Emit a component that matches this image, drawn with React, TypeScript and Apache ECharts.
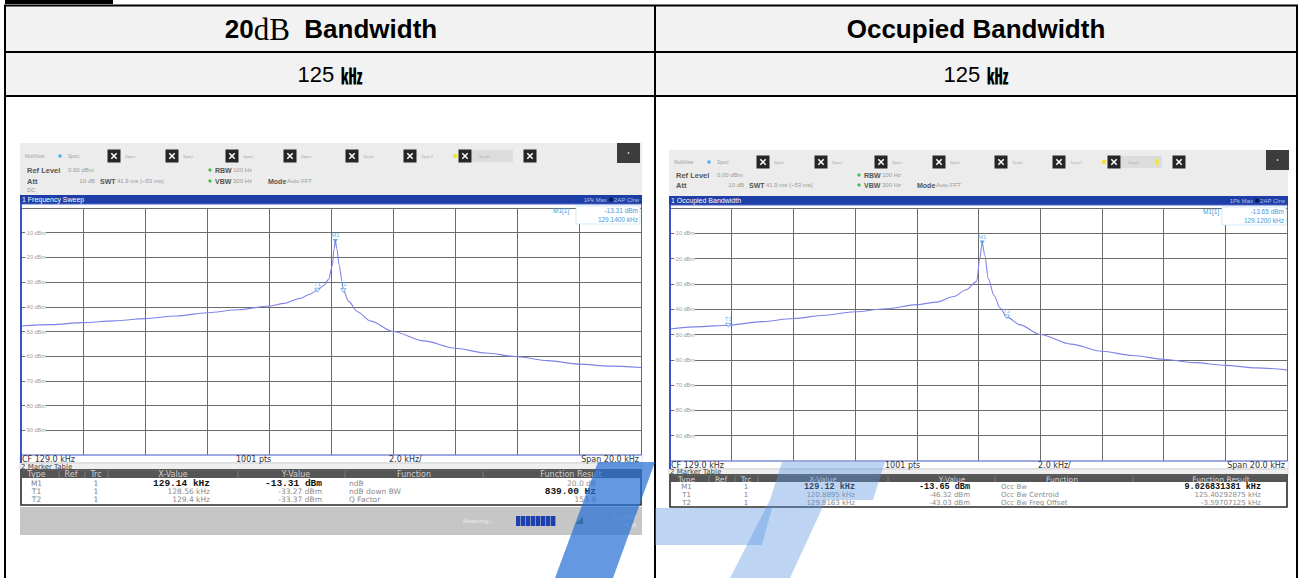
import React, { useEffect, useRef } from "react";
import * as echarts from "echarts";

// ---------------- data ----------------
const CF_KHZ = 129.0;

// trace 1: 20 dB bandwidth (frequency sweep)
const sweepFreqKHz = [119, 120, 121, 122, 123, 124, 125, 126, 127, 127.5, 128, 128.3, 128.56, 128.75, 128.92, 129.04, 129.1, 129.14, 129.19, 129.26, 129.36, 129.4, 129.57, 129.85, 130.28, 131, 132, 133, 134, 135, 136, 137, 138, 139];
const sweepLevelDbm = [-47.8, -47.2, -46.4, -45.7, -44.8, -43.7, -42.4, -41.2, -39.7, -38.6, -36.6, -35.0, -33.27, -31.5, -29.0, -23.5, -16.5, -13.31, -16.5, -23.0, -30.0, -33.37, -37.8, -42.0, -45.8, -50.0, -53.8, -56.8, -58.7, -60.2, -61.8, -63.2, -64.0, -64.6];

// trace 2: occupied bandwidth
const obwFreqKHz = [119, 120, 120.8895, 122, 123, 124, 125, 126, 127, 127.65, 128.2, 128.6, 128.94, 129.04, 129.12, 129.2, 129.32, 129.5, 129.7, 129.9163, 130.35, 131, 132, 133, 134, 135, 136, 137, 138, 139];
const obwLevelDbm = [-47.8, -46.9, -46.32, -44.9, -43.7, -42.4, -41.0, -39.8, -38.2, -37.2, -35.0, -32.3, -29.0, -20.0, -13.65, -18.5, -28.0, -34.5, -39.5, -43.03, -46.2, -50.0, -53.8, -56.6, -58.3, -59.8, -61.1, -62.2, -63.2, -64.0];

// markers
const markerNames = ["M1", "T1", "T2"];
const sweepMarkerFreq = [129.14, 128.56, 129.4];
const sweepMarkerLevel = [-13.31, -33.27, -33.37];
const obwMarkerFreq = [129.12, 120.8895, 129.9163];
const obwMarkerLevel = [-13.65, -46.32, -43.03];

// marker table texts
const tableHeaders = ["Type", "Ref", "Trc", "X-Value", "Y-Value", "Function", "Function Result"];
const sweepXValue = ["129.14 kHz", "128.56 kHz", "129.4 kHz"];
const sweepYValue = ["-13.31 dBm", "-33.27 dBm", "-33.37 dBm"];
const sweepFunction = ["ndB", "ndB down BW", "Q Factor"];
const sweepResult = ["20.0 dB", "839.00 Hz", "153.9"];
const obwXValue = ["129.12 kHz", "120.8895 kHz", "129.9163 kHz"];
const obwYValue = ["-13.65 dBm", "-46.32 dBm", "-43.03 dBm"];
const obwFunction = ["Occ Bw", "Occ Bw Centroid", "Occ Bw Freq Offset"];
const obwResult = ["9.026831381 kHz", "125.40292875 kHz", "-3.59707125 kHz"];

// header cells
const colTitles = ["20", "Occupied Bandwidth"];

// ---------------- helpers ----------------
const SANS = "'Liberation Sans', Arial, sans-serif";
const SERIF = "'Liberation Serif', 'DejaVu Serif', serif";
const DEJA = "'DejaVu Sans', sans-serif";
const MONO = "'Liberation Mono', 'DejaVu Sans Mono', monospace";
const CJK = "'Noto Sans CJK KR', 'Noto Sans CJK SC', sans-serif";

function txt(x: number, y: number, text: string, size: number, fill: string, o: any = {}) {
  const align = o.align || "left";
  return {
    type: "text",
    x,
    y,
    z: o.z ?? 40,
    silent: true,
    style: {
      text,
      fill,
      font: `${o.bold ? "bold " : ""}${size}px ${o.family || SANS}`,
      textAlign: align,
      textVerticalAlign: "middle",
      align,
      verticalAlign: "middle",
    },
  };
}
function rect(x: number, y: number, w: number, h: number, fill: string, o: any = {}) {
  return {
    type: "rect",
    z: o.z ?? 20,
    silent: true,
    shape: { x, y, width: w, height: h },
    style: { fill, stroke: o.stroke || "none", lineWidth: o.lw ?? 0, opacity: o.opacity ?? 1 },
  };
}
function line(x1: number, y1: number, x2: number, y2: number, stroke: string, lw: number, z = 40) {
  return { type: "line", z, silent: true, shape: { x1, y1, x2, y2 }, style: { stroke, lineWidth: lw } };
}
function dot(cx: number, cy: number, r: number, fill: string, z = 40) {
  return { type: "circle", z, silent: true, shape: { cx, cy, r }, style: { fill } };
}

const iconRel = [94, 152, 212, 270, 332, 390, 445, 510];
const iconLabels = ["Spect", "Spect", "Spect", "Spect", "Tp.ptt", "Tp.ps7", "", ""];

function panel(p: any) {
  const { x0, x1 } = p;
  const w = x1 - x0;
  const els: any[] = [];
  // toolbar background
  els.push(rect(x0, p.tbTop, w, p.barTop - p.tbTop, "#ececec", { z: -10 }));
  els.push(txt(x0 + 5, p.iconY, "MultiView", 4.5, "#a0a0a0"));
  els.push(dot(x0 + 40, p.iconY, 1.8, "#45b5f5"));
  els.push(txt(x0 + 48, p.iconY, "Spect", 4.5, "#a0a0a0"));
  iconRel.forEach((r, i) => {
    const cx = x0 + r;
    const cy = p.iconY;
    if (i === 6) {
      els.push(dot(cx - 10, cy, 2.2, "#f2e62a"));
      els.push(rect(cx + 7, cy - 6, 41, 12, "#dcdcdc", { z: 15 }));
      els.push(txt(cx + 14, cy, "Sp.ptt", 4, "#b0b0b0"));
      if (p.extraDot) els.push({ type: "ellipse", z: 40, silent: true, shape: { cx: cx + 43, cy, rx: 1.6, ry: 3.5 }, style: { fill: "#f2e62a" } });
    }
    els.push(rect(cx - 6.5, cy - 6.5, 13, 13, "#262626", { z: 30 }));
    els.push(line(cx - 2.7, cy - 2.7, cx + 2.7, cy + 2.7, "#fff", 1.5));
    els.push(line(cx - 2.7, cy + 2.7, cx + 2.7, cy - 2.7, "#fff", 1.5));
    if (iconLabels[i]) els.push(txt(cx + 11, cy, iconLabels[i], 4, "#a8a8a8"));
  });
  els.push(rect(x0 + 597, p.tbTop, 23, 20, "#3c3c3c", { z: 30 }));
  els.push(dot(x0 + 608.5, p.tbTop + 10, 0.9, "#cfcfcf"));

  // setting lines
  els.push(txt(x0 + 7, p.refY, "Ref Level", 7.5, "#555", { bold: true }));
  els.push(txt(x0 + 48, p.refY, "0.00 dBm", 6, "#999"));
  els.push(dot(x0 + 190, p.refY, 1.6, "#3fbf3f"));
  els.push(txt(x0 + 195, p.refY, "RBW", 7, "#555", { bold: true }));
  els.push(txt(x0 + 213, p.refY, "100 Hz", 6, "#999"));
  els.push(txt(x0 + 7, p.attY, "Att", 7.5, "#555", { bold: true }));
  els.push(txt(x0 + 75, p.attY, "10 dB", 6, "#999", { align: "right" }));
  els.push(txt(x0 + 80, p.attY, "SWT", 7, "#555", { bold: true }));
  els.push(txt(x0 + 97, p.attY, "41.9 ms (~53 ms)", 6, "#999"));
  els.push(dot(x0 + 190, p.attY, 1.6, "#3fbf3f"));
  els.push(txt(x0 + 195, p.attY, "VBW", 7, "#555", { bold: true }));
  els.push(txt(x0 + 213, p.attY, "300 Hz", 6, "#999"));
  els.push(txt(x0 + 248, p.attY, "Mode", 7, "#555", { bold: true }));
  els.push(txt(x0 + 267, p.attY, "Auto FFT", 6, "#999"));
  if (p.dcY) els.push(txt(x0 + 7, p.dcY, "DC", 6, "#999"));

  // blue title bar
  const barMid = (p.barTop + p.barBot) / 2;
  els.push(rect(x0, p.barTop, w, p.barBot - p.barTop, "#1d3ea6", { z: 30 }));
  els.push(txt(x0 + 2, barMid, p.title, 7, "#ffffff"));
  els.push(txt(x1 - 3, barMid, "2AP Clrw", 6, "#a9c1ef", { align: "right" }));
  els.push(dot(x1 - 31, barMid, 2, "#0b1640"));
  els.push(txt(x1 - 35, barMid, "1Pk Max", 6, "#a9c1ef", { align: "right" }));

  // plot area background and frame
  els.push(rect(x0, p.barBot, w, p.cfBot - p.barBot, "#ffffff", { z: -10 }));
  els.push(rect(x0 + 0.5, p.barBot, w - 1, p.plotBot - p.barBot, "none", { z: 35, stroke: "#5064c8", lw: 1 }));
  els.push(line(x0 + 1, p.barBot, x0 + 1, p.cfBot, "#3d52c4", 2, 36));

  // marker readout
  els.push(rect(x1 - 66, p.barBot + 2, 64, 18, "#ffffff", { z: 36, stroke: "#b6d8f2", lw: 0.6 }));
  els.push(txt(p.readX, p.barBot + 6, "M1[1]", 6.5, "#3d9be0"));
  els.push(txt(x1 - 4, p.barBot + 6, p.readLevel, 6.5, "#3d9be0", { align: "right" }));
  els.push(txt(x1 - 4, p.barBot + 15, p.readFreq, 6.5, "#3d9be0", { align: "right" }));

  // CF row
  const cfMid = (p.plotBot + p.cfBot) / 2;
  els.push(rect(x0, p.plotBot, w, p.cfBot - p.plotBot, "#ffffff", { z: 30, stroke: "#c4cbe4", lw: 0.6 }));
  els.push(txt(x0 + 2, cfMid, "CF 129.0 kHz", 8, "#333", { family: DEJA }));
  els.push(txt(x0 + 216, cfMid, "1001 pts", 8, "#333", { family: DEJA }));
  els.push(txt(x0 + 369, cfMid, "2.0 kHz/", 8, "#333", { family: DEJA }));
  els.push(txt(x1 - 3, cfMid, "Span 20.0 kHz", 8, "#333", { family: DEJA, align: "right" }));

  // marker table title row
  els.push(rect(x0, p.cfBot, w, p.hdrTop - p.cfBot, "#efefef", { z: 30, stroke: "#bdbdbd", lw: 0.6 }));
  els.push(txt(x0 + 1, (p.cfBot + p.hdrTop) / 2, "2 Marker Table", 7, "#444", { family: DEJA }));

  // table frame
  els.push(rect(x0 + 1, p.hdrTop, w - 2, p.tblBot - p.hdrTop, "#ffffff", { z: 30, stroke: "#2a2a2a", lw: 1.6 }));
  els.push(rect(x0 + 2, p.hdrTop + 1, w - 4, p.hdrBot - p.hdrTop - 1, "#555555", { z: 31 }));
  const c = p.cols;
  c.seps.forEach((s: number) => els.push(line(x0 + s, p.hdrTop + 1, x0 + s, p.hdrBot, "#7a7a7a", 1, 32)));
  const hy = (p.hdrTop + p.hdrBot) / 2 + 0.5;
  const hx = [c.type, c.ref, c.trc, c.xh, c.yh, c.fh, c.rh];
  tableHeaders.forEach((h, i) => els.push(txt(x0 + hx[i], hy, h, p.hdrSize, "#cfcfcf", { family: DEJA, align: "center" })));
  p.rowYs.forEach((ry: number, i: number) => {
    els.push(txt(x0 + c.type, ry, markerNames[i], p.rowSize, "#808080", { family: DEJA, align: "center" }));
    els.push(txt(x0 + c.trc, ry, "1", p.rowSize, "#808080", { family: DEJA, align: "center" }));
    if (i === 0) {
      els.push(txt(x0 + c.xr, ry, p.xv[i], p.boldSize, "#111", { family: MONO, bold: true, align: "right" }));
      els.push(txt(x0 + c.yr, ry, p.yv[i], p.boldSize, "#111", { family: MONO, bold: true, align: "right" }));
    } else {
      els.push(txt(x0 + c.xr, ry, p.xv[i], p.rowSize, "#8a8a8a", { family: DEJA, align: "right" }));
      els.push(txt(x0 + c.yr, ry, p.yv[i], p.rowSize, "#8a8a8a", { family: DEJA, align: "right" }));
    }
    els.push(txt(x0 + c.fl, ry, p.fn[i], p.rowSize, "#8a8a8a", { family: DEJA }));
    if (i === p.boldRes) els.push(txt(x0 + c.rr, ry, p.res[i], p.boldSize, "#111", { family: MONO, bold: true, align: "right" }));
    else els.push(txt(x0 + c.rr, ry, p.res[i], p.rowSize, "#8a8a8a", { family: DEJA, align: "right" }));
  });

  // status bar
  if (p.status) {
    const [st, sb] = p.status;
    const sm = (st + sb) / 2;
    els.push(rect(x0, st, w, sb - st, "#c6c6c6", { z: 30 }));
    els.push(txt(x0 + 443, sm, "Measuring...", 5.5, "#eeeeee"));
    for (let k = 0; k < 8; k++) els.push(rect(x0 + 496 + k * 5, sm - 5, 4.4, 10, "#1d3fae", { z: 32 }));
    els.push({ type: "polygon", z: 33, silent: true, shape: { points: [[x0 + 555, sm + 3], [x0 + 563, sm + 3], [x0 + 563, sm - 4]] }, style: { fill: "#4d6b3c" } });
    els.push(txt(x0 + 616, sm - 4, "15.10.2020", 5, "#ececec", { align: "right" }));
    els.push(txt(x0 + 616, sm + 4, "17:46:09", 5, "#ececec", { align: "right" }));
  }
  return els;
}

const leftPanel = {
  x0: 20, x1: 642, tbTop: 143, iconY: 156, refY: 170, attY: 181, dcY: 190,
  barTop: 195, barBot: 204, plotBot: 455, cfBot: 463, hdrTop: 470, hdrBot: 478,
  rowYs: [483, 491.5, 499.5], tblBot: 505, status: [507, 535],
  title: "1 Frequency Sweep", readX: 553, readLevel: "-13.31 dBm", readFreq: "129.1400 kHz",
  cols: { type: 16.5, ref: 51, trc: 76, xh: 153, yh: 276, fh: 394, rh: 551, xr: 190, yr: 302, fl: 329, rr: 576, seps: [39, 65, 88, 218, 325, 463] },
  xv: sweepXValue, yv: sweepYValue, fn: sweepFunction, res: sweepResult, boldRes: 1,
  boldSize: 9.5, rowSize: 7.5, hdrSize: 8,
};
const rightPanel = {
  x0: 669, x1: 1288, tbTop: 150, iconY: 162, refY: 175, attY: 185, dcY: 0, extraDot: true,
  barTop: 196, barBot: 205, plotBot: 461, cfBot: 469, hdrTop: 475, hdrBot: 482,
  rowYs: [487, 495, 502.5], tblBot: 507, status: null,
  title: "1 Occupied Bandwidth", readX: 1203, readLevel: "-13.65 dBm", readFreq: "129.1200 kHz",
  cols: { type: 17.5, ref: 52, trc: 77, xh: 154, yh: 283, fh: 393, rh: 552, xr: 186, yr: 301, fl: 332, rr: 592, seps: [40, 66, 89, 219, 326, 464] },
  xv: obwXValue, yv: obwYValue, fn: obwFunction, res: obwResult, boldRes: 0,
  boldSize: 8.5, rowSize: 7, hdrSize: 7.5,
};

function tableFrame() {
  const els: any[] = [];
  els.push(rect(5, 6, 1292, 90, "#f2f2f2", { z: -20 }));
  els.push(rect(5, 0, 108, 4, "#000", { z: 60 }));
  [5.5, 52, 96].forEach((y) => els.push(line(4, y, 1298, y, "#000", 2, 60)));
  [5, 655, 1297].forEach((x) => els.push(line(x, 5, x, 578, "#000", 2, 60)));
  els.push({
    type: "text", x: 331, y: 29, z: 60, silent: true,
    style: {
      text: `{b|${colTitles[0]}}{s|dB}{b|  Bandwidth}`,
      rich: { b: { font: `bold 26px ${SANS}`, fill: "#000" }, s: { font: `31px ${SERIF}`, fill: "#000" } },
      textAlign: "center", textVerticalAlign: "middle", align: "center", verticalAlign: "middle",
    },
  });
  els.push(txt(976, 29, colTitles[1], 26, "#000", { bold: true, align: "center", z: 60 }));
  [330, 976].forEach((cx) =>
    els.push({
      type: "text", x: cx, y: 74, z: 60, silent: true,
      style: {
        text: `{a|125 }{k|㎑}`,
        rich: { a: { font: `22px ${SANS}`, fill: "#000" }, k: { font: `bold 22px ${CJK}`, fill: "#000" } },
        textAlign: "center", textVerticalAlign: "middle", align: "center", verticalAlign: "middle",
      },
    })
  );
  // watermark
  const wm = (pts: number[][], fill: string) => ({ type: "polygon", z: 100, silent: true, shape: { points: pts }, style: { fill } });
  els.push(wm([[598, 462], [655, 462], [613, 578], [555, 578]], "rgba(40,112,212,0.72)"));
  els.push(wm([[655, 508], [772, 508], [762, 545], [655, 545]], "rgba(90,150,225,0.4)"));
  els.push(wm([[782, 462], [885, 462], [873, 500], [770, 500]], "rgba(90,150,225,0.4)"));
  els.push(wm([[770, 500], [826, 500], [790, 578], [730, 578]], "rgba(90,150,225,0.4)"));
  return els;
}

function buildOption() {
  const axisX = (gi: number) => ({
    type: "value", gridIndex: gi, min: -10, max: 10, interval: 2,
    axisLine: { show: false }, axisTick: { show: false }, axisLabel: { show: false },
    splitLine: { show: true, lineStyle: { color: "#6b6b6b", width: 1 } },
  });
  const axisY = (gi: number) => ({
    type: "value", gridIndex: gi, min: -100, max: 0, interval: 10,
    axisLine: { show: false }, axisTick: { show: false },
    axisLabel: {
      inside: true, margin: 4, fontSize: 5.5, color: "#9a9a9a", fontFamily: SANS,
      backgroundColor: "#ffffff",
      formatter: (v: number) => (v === 0 || v === -100 ? "" : `${v} dBm`),
    },
    splitLine: { show: true, lineStyle: { color: "#6b6b6b", width: 1 } },
  });
  const trace = (gi: number, fs: number[], ls: number[]) => ({
    type: "line", xAxisIndex: gi, yAxisIndex: gi, z: 3,
    data: fs.map((f, i) => [f - CF_KHZ, ls[i]]),
    showSymbol: false, smooth: 0.3, smoothMonotone: "x",
    lineStyle: { color: "#7f83e8", width: 1.1 },
  });
  const markers = (gi: number, fs: number[], ls: number[]) => ({
    type: "scatter", xAxisIndex: gi, yAxisIndex: gi, z: 5,
    symbol: "triangle", symbolRotate: 180, symbolSize: [5, 4],
    data: markerNames.map((n, i) => ({
      name: n,
      value: [fs[i] - CF_KHZ, ls[i]],
      itemStyle: i === 0 ? { color: "#3b8ee0" } : { color: "#ffffff", borderColor: "#3b8ee0", borderWidth: 0.8 },
    })),
    label: { show: true, formatter: "{b}", position: "top", distance: 1, fontSize: 6, color: "#4ba3e3", fontFamily: SANS },
  });
  return {
    animation: false,
    backgroundColor: "#ffffff",
    grid: [
      { left: 21, top: 208, width: 620, height: 247, show: false },
      { left: 670, top: 208, width: 617, height: 253, show: false },
    ],
    xAxis: [axisX(0), axisX(1)],
    yAxis: [axisY(0), axisY(1)],
    series: [
      trace(0, sweepFreqKHz, sweepLevelDbm),
      trace(1, obwFreqKHz, obwLevelDbm),
      markers(0, sweepMarkerFreq, sweepMarkerLevel),
      markers(1, obwMarkerFreq, obwMarkerLevel),
    ],
    graphic: { elements: [...tableFrame(), ...panel(leftPanel), ...panel(rightPanel)] },
  };
}

export default function App() {
  const ref = useRef<HTMLDivElement>(null);
  useEffect(() => {
    document.body.style.margin = "0";
    if (!ref.current) return;
    const chart = echarts.init(ref.current, null, { renderer: "svg" });
    chart.setOption(buildOption() as any);
    return () => chart.dispose();
  }, []);
  return <div ref={ref} style={{ width: 1303, height: 578 }} />;
}
